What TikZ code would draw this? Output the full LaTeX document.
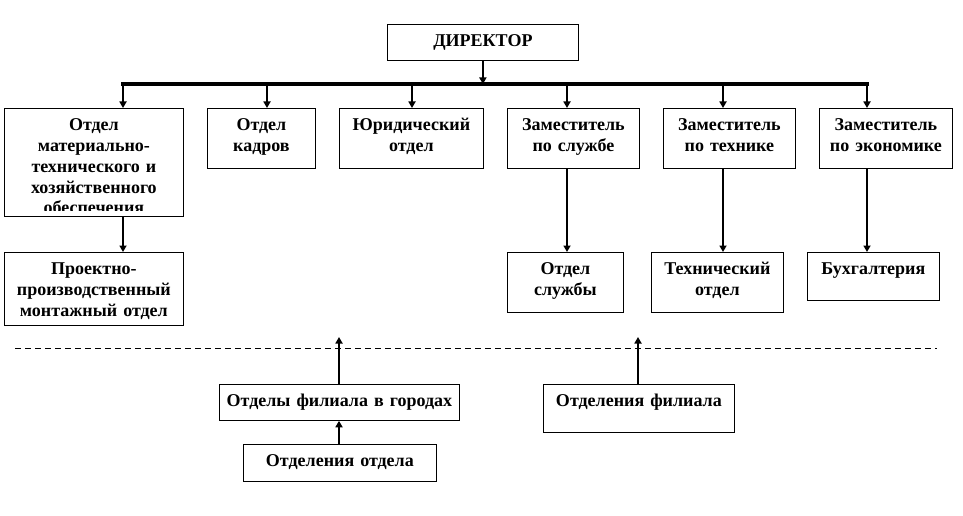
\documentclass[tikz,border=0pt]{standalone}
\usepackage{fontspec}
\setmainfont{Liberation Serif}
\usetikzlibrary{arrows.meta}

\begin{document}
\begin{tikzpicture}[x=1pt, y=-1pt, >={Triangle[width=7pt, length=6.5pt]}]
        % Estilos para los bloques y las líneas
        \tikzstyle{block} = [draw, line width=0.8pt, anchor=north west, inner sep=0pt, align=center, text height=22.5pt, font=\bfseries\fontsize{18}{20.7}\selectfont]
        \tikzstyle{bus} = [line width=3.2pt, line cap=rect]
        \tikzstyle{link} = [->, line width=2.8pt]
        \tikzstyle{separator} = [dash pattern=on 6pt off 4pt, line width=1pt]

        \useasboundingbox (0,0) rectangle (963,516);

        % Nodes
        \node [block, text width=191pt, text depth=13.5pt] (director) at (387,24) {ДИРЕКТОР};

        \begin{scope}
        \clip (0,100) rectangle (190,210.5);
        \node [block, draw=none, text width=179pt, text depth=85.5pt] (otdelMTO) at (4,108) {Отдел\\материально-\\технического и\\хозяйственного\\обеспечения};
        \end{scope}
        \draw [line width=0.8pt] (otdelMTO.north west) rectangle (otdelMTO.south east);

        \node [block, text width=108pt, text depth=37.5pt] (otdelKadrov) at (207,108) {Отдел\\кадров};
        \node [block, text width=144pt, text depth=37.5pt] (yuridOtdel) at (339,108) {Юридический\\отдел};
        \node [block, text width=132pt, text depth=37.5pt] (zamSluzhba) at (507,108) {Заместитель\\по службе};
        \node [block, text width=132pt, text depth=37.5pt] (zamTekhnika) at (663,108) {Заместитель\\по технике};
        \node [block, text width=133pt, text depth=37.5pt] (zamEkonomika) at (819,108) {Заместитель\\по экономике};

        \node [block, text width=179pt, text depth=50.5pt] (proektOtdel) at (4,252) {Проектно-\\производственный\\монтажный отдел};
        \node [block, text width=116pt, text depth=37.5pt] (otdelSluzhby) at (507,252) {Отдел\\службы};
        \node [block, text width=132pt, text depth=37.5pt] (tekhOtdel) at (651,252) {Технический\\отдел};
        \node [block, text width=132pt, text depth=25.5pt] (bukhgalteriya) at (807,252) {Бухгалтерия};

        \node [block, text width=240pt, text depth=13.5pt] (otdelyFiliala) at (219,384) {Отделы филиала в городах};
        \node [block, text width=193pt, text depth=14.5pt] (otdeleniyaOtdela) at (243,444) {Отделения отдела};
        \node [block, text width=191pt, text depth=25.5pt] (otdeleniyaFiliala) at (543,384) {Отделения филиала};

        \coordinate (busLeft) at (123,84);
        \coordinate (busRight) at (867,84);
        \coordinate (branchKadry) at (267,84);
        \coordinate (branchYurid) at (412,84);
        \coordinate (branchSluzhba) at (567,84);
        \coordinate (branchTekhnika) at (723,84);
        \coordinate (sepLeft) at (15,348);
        \coordinate (sepRight) at (937,348);
        \coordinate (upFiliala) at (339,337);
        \coordinate (upOtdeleniya) at (638,337);

        % Lines
        \draw [bus] (busLeft) -- (busRight);
        \draw [link] (director.south) -- (director.south |- busLeft);
        \draw [link] (busLeft) -- (busLeft |- otdelMTO.north);
        \draw [link] (branchKadry) -- (branchKadry |- otdelKadrov.north);
        \draw [link] (branchYurid) -- (branchYurid |- yuridOtdel.north);
        \draw [link] (branchSluzhba) -- (branchSluzhba |- zamSluzhba.north);
        \draw [link] (branchTekhnika) -- (branchTekhnika |- zamTekhnika.north);
        \draw [link] (busRight) -- (busRight |- zamEkonomika.north);

        \draw [link] (otdelMTO.south -| busLeft) -- (busLeft |- proektOtdel.north);
        \draw [link] (zamSluzhba.south -| branchSluzhba) -- (branchSluzhba |- otdelSluzhby.north);
        \draw [link] (zamTekhnika.south -| branchTekhnika) -- (branchTekhnika |- tekhOtdel.north);
        \draw [link] (zamEkonomika.south -| busRight) -- (busRight |- bukhgalteriya.north);

        \draw [separator] (sepLeft) -- (sepRight);
        \draw [link] (otdelyFiliala.north -| upFiliala) -- (upFiliala);
        \draw [link] (otdeleniyaOtdela.north -| upFiliala) -- (upFiliala |- otdelyFiliala.south);
        \draw [link] (otdeleniyaFiliala.north -| upOtdeleniya) -- (upOtdeleniya);

\end{tikzpicture}
\end{document}
